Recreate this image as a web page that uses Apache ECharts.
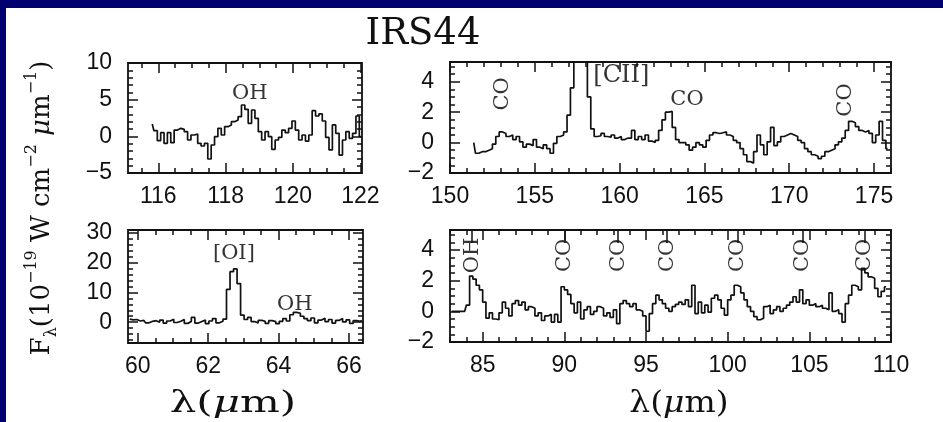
<!DOCTYPE html>
<html>
<head>
<meta charset="utf-8">
<script src="https://cdn.jsdelivr.net/npm/echarts@6/dist/echarts.min.js"></script>
<style>
  html, body { margin: 0; padding: 0; background: #000070; }
  #chart { width: 943px; height: 422px; }
</style>
</head>
<body>
<div id="chart"></div>
<script>
// ---- Spectra of IRS44: flux density in 1e-19 W cm^-2 um^-1 on regular wavelength bins ----

// 115-122 um window (OH 119 um)
const ohStart = 115.82, ohStep = 0.1;
const fluxOH = [1.68, 0.77, -0.59, 0.5, -0.95, 0.5, -0.86, 0.86, 1.09, 0.95,
  0.64, -0.5, 0.18, 0.32, -0.95, -1.32, -0.95, -3.09, -1.18, -0.05,
  1.09, 0.18, 1.32, 1.55, 2.0, 2.23, 2.68, 4.27, 3.68, 1.77,
  3.59, 2.45, 0.64, -0.5, 0.64, -0.05, -1.77, -0.5, -0.14, 0.86,
  0.5, 1.09, 2.09, 0.86, -0.5, 0.18, -0.64, 0.18, 3.5, 2.77,
  3.05, 2.09, -0.14, -1.86, 1.55, 0.41, -2.55, -0.5, 0.64, -0.27,
  0.41, 2.77, -0.05];

// 60-66.4 um window ([OI] 63 um)
const oiStart = 59.77, oiStep = 0.1;
const fluxOI = [1.0, 0.8, 0.9, 0.4, 0.6, -0.2, 0.3, 0.5, 0.0, 0.7,
  -0.3, 0.4, 1.0, -0.1, 0.3, 0.9, -0.4, 0.2, 1.6, -0.3,
  0.2, 0.7, -0.5, 0.4, 1.2, -0.2, 0.3, 1.0, 11.0, 17.0,
  17.9, 13.0, 2.4, 0.9, 1.6, 0.2, -0.3, 0.6, 0.3, -0.4,
  0.5, 0.2, -0.5, 0.3, 1.2, 0.4, 2.5, 3.3, 3.0, 2.0,
  1.2, 0.5, 1.4, -0.2, 0.7, 1.3, 0.2, 0.9, -0.3, 0.6,
  1.2, 0.1, 0.8, -0.4, 0.5, 0.3, 0.6];

// 150-176 um window ([CII] 158 um)
const ciiStart = 151.4, ciiStep = 0.2;
const fluxCII = [0.0, -0.7, -0.6, -0.6, -0.5, -0.4, -0.1, 0.4, 0.7, 0.6,
  0.4, 0.5, 0.2, 0.4, 0.05, -0.3, -0.1, -0.2, 0.2, -0.3,
  -0.4, -0.15, -0.4, -0.7, -0.05, 0.4, 0.5, 0.7, 1.8, 3.6,
  7.0, 9.5, 9.0, 6.0, 3.0, 0.9, 0.4, 0.45, 0.6, 0.4,
  0.35, 0.5, 0.3, 0.4, 0.2, 0.3, 0.3, 0.8, 0.2, 0.4,
  0.2, 0.5, 0.1, 0.0, 0.15, 0.8, 1.5, 2.0, 2.05, 1.0,
  0.2, 0.0, 0.0, -0.15, -0.5, -0.3, 0.0, -0.15, -0.3, 0.15,
  0.5, 0.65, 0.6, 0.65, 0.7, 0.5, 0.4, 0.15, 0.0, -0.4,
  -0.8, -1.25, -1.35, -0.6, 0.5, -0.15, -0.8, 0.05, 1.0, -0.2,
  0.05, 0.4, 0.5, 0.6, 0.5, 0.4, 0.15, 0.0, -0.4, -0.6,
  -0.8, -0.9, -1.05, -0.9, -0.6, -0.5, -0.4, -0.15, 0.05, 0.3,
  0.8, 1.4, 1.3, 1.05, 0.8, 0.7, 0.8, 0.6, 0.0, 0.5,
  1.4, 0.15, -0.4];

// 83-110 um window (CO ladder)
const coStart = 83.1, coStep = 0.2;
const fluxCO = [0.0, 0.0, 0.0, 0.0, 0.0, 0.4, 2.3, 2.1, 1.7, 1.4,
  0.6, -0.45, -0.1, -0.5, -0.55, -0.1, 0.6, 0.2, -0.3, 0.5,
  0.7, 0.4, 0.6, 0.1, 0.3, 0.2, -0.3, -0.1, -0.6, -0.3,
  -0.2, -0.7, -0.2, -0.7, 1.6, 1.4, 1.1, 0.5, -0.1, 0.6,
  -0.5, 0.1, 0.3, -0.2, 0.0, 0.3, 0.2, -0.3, -0.1, -0.4,
  0.1, -0.8, 0.5, 0.7, 0.5, 0.3, 0.5, 0.1, 0.0, -0.3,
  -1.3, -0.15, 0.5, 1.05, 0.75, 0.5, 0.2, 0.0, 0.3, 0.45,
  0.6, 0.45, 0.75, 0.3, 1.7, -0.15, 0.6, -0.1, 0.4, -0.05,
  0.85, 1.05, 0.75, 0.2, -0.25, 0.75, 1.05, 1.7, 1.6, 1.2,
  0.75, 0.3, 0.0, -0.35, -0.55, -0.45, 0.3, 0.4, -0.15, 0.1,
  0.3, 0.0, 0.2, 0.4, 0.6, 0.95, 0.6, 1.4, 0.5, 0.75,
  0.4, 0.5, 0.3, 0.4, 0.2, 0.1, 1.2, 0.0, 0.1, -0.15,
  -0.7, 0.5, 1.05, 1.7, 1.6, 1.4, 2.8, 2.5, 2.25, 2.15,
  1.5, 0.95, 1.3, 1.6];

// ---- Tick labels ----
const xTicksOH = [116, 118, 120, 122];
const xTicksOI = [60, 62, 64, 66];
const xTicksCII = [150, 155, 160, 165, 170, 175];
const xTicksCO = [85, 90, 95, 100, 105, 110];
const yTicksOH = [-5, 0, 5, 10];
const yTicksOI = [0, 10, 20, 30];
const yTicksSmall = [-2, 0, 2, 4];

// ---- Line identifications: [wavelength, flux position, text, rotated] ----
const linesOH = [[118.72, 5.85, 'OH', false]];
const linesOI = [[62.73, 23.0, '[OI]', false], [64.46, 5.8, 'OH', false]];
const linesCII = [[153.07, 3.2, 'CO', true], [160.1, 4.4, '[CII]', false],
                  [163.97, 2.8, 'CO', false], [173.3, 2.8, 'CO', true]];
const linesCO = [[84.35, 3.64, 'OH'], [90.0, 3.64, 'CO'], [93.3, 3.64, 'CO'],
                 [96.3, 3.64, 'CO'], [100.6, 3.64, 'CO'], [104.6, 3.64, 'CO'],
                 [108.4, 3.64, 'CO']];
const markerTop = 5.3, markerBottom = 4.45;

// ---- Panel layout ----
const panels = [
  { grid: { left: 128, top: 63, width: 234, height: 110 }, x: [115.1, 122.05], y: [-5, 10],
    xMajor: xTicksOH, xMinor: 0.5, yMajor: yTicksOH, yMinor: 1,
    start: ohStart, step: ohStep, flux: fluxOH, labels: linesOH },
  { grid: { left: 450, top: 62, width: 441, height: 111 }, x: [150, 176], y: [-2, 5.3],
    xMajor: xTicksCII, xMinor: 1, yMajor: yTicksSmall, yMinor: 0.5,
    start: ciiStart, step: ciiStep, flux: fluxCII, labels: linesCII },
  { grid: { left: 128, top: 230, width: 235, height: 113 }, x: [59.72, 66.4], y: [-7, 31],
    xMajor: xTicksOI, xMinor: 0.5, yMajor: yTicksOI, yMinor: 2,
    start: oiStart, step: oiStep, flux: fluxOI, labels: linesOI },
  { grid: { left: 450, top: 230, width: 441, height: 112 }, x: [83, 110], y: [-2, 5.3],
    xMajor: xTicksCO, xMinor: 1, yMajor: yTicksSmall, yMinor: 0.5,
    start: coStart, step: coStep, flux: fluxCO, labels: null, markers: linesCO }
];

const INK = '#111';
const tickFont = { fontFamily: 'Liberation Sans', fontSize: 23, color: INK };
const fmt = v => (v < 0 ? '\u2212' : '') + Math.abs(v);

function minorValues(range, step) {
  const out = [];
  for (let v = Math.ceil(range[0] / step - 1e-9) * step; v <= range[1] + 1e-9; v += step) {
    out.push(+v.toFixed(4));
  }
  return out;
}

// Four overlaid axes per direction: labelled major, minor, and mirrored copies on the far side.
function axisSet(dim, gi, range, majors, minorStep) {
  const pos = dim === 'x' ? ['bottom', 'top'] : ['left', 'right'];
  const minors = minorValues(range, minorStep);
  const base = { type: 'value', gridIndex: gi, min: range[0], max: range[1],
                 axisLine: { show: false, onZero: false }, splitLine: { show: false } };
  const tick = (vals, len) => ({ show: true, inside: true, length: len, customValues: vals,
                                 lineStyle: { color: INK, width: 1.5 } });
  return [
    Object.assign({}, base, { position: pos[0], axisTick: tick(majors, 10),
      axisLabel: Object.assign({ show: true, customValues: majors, formatter: fmt,
                                 margin: dim === 'x' ? 12 : 16 }, tickFont) }),
    Object.assign({}, base, { position: pos[0], axisTick: tick(minors, 5), axisLabel: { show: false } }),
    Object.assign({}, base, { position: pos[1], axisTick: tick(majors, 10), axisLabel: { show: false } }),
    Object.assign({}, base, { position: pos[1], axisTick: tick(minors, 5), axisLabel: { show: false } })
  ];
}

const grids = [], xAxes = [], yAxes = [], series = [];
panels.forEach((p, gi) => {
  grids.push(Object.assign({ show: true, borderColor: INK, borderWidth: 1.8,
                             backgroundColor: 'transparent' }, p.grid));
  const xi = xAxes.length, yi = yAxes.length;
  xAxes.push(...axisSet('x', gi, p.x, p.xMajor, p.xMinor));
  yAxes.push(...axisSet('y', gi, p.y, p.yMajor, p.yMinor));

  series.push({
    type: 'line', xAxisIndex: xi, yAxisIndex: yi, step: 'middle', symbol: 'none',
    clip: true, silent: true, animation: false,
    lineStyle: { color: INK, width: 1.7 },
    data: p.flux.map((f, i) => [+(p.start + i * p.step).toFixed(3), f])
  });

  if (p.labels) {
    series.push({
      type: 'scatter', xAxisIndex: xi, yAxisIndex: yi, symbolSize: 1, silent: true,
      animation: false, itemStyle: { color: 'rgba(0,0,0,0)' },
      data: p.labels.map(l => ({ value: [l[0], l[1]], name: l[2],
        label: { rotate: l[3] ? 90 : 0, fontSize: l[2] === '[CII]' ? 24 : 21 } })),
      label: { show: true, position: 'inside', formatter: '{b}', color: '#000',
               fontFamily: 'DejaVu Serif', fontSize: 21 }
    });
  }
  if (p.markers) {
    series.push({
      type: 'scatter', xAxisIndex: xi, yAxisIndex: yi, symbolSize: 1, silent: true,
      animation: false, itemStyle: { color: 'rgba(0,0,0,0)' },
      data: p.markers.map(l => ({ value: [l[0], l[1]], name: l[2] })),
      label: { show: true, position: 'inside', formatter: '{b}', rotate: 90, color: '#000',
               fontFamily: 'DejaVu Serif', fontSize: 21 },
      markLine: {
        silent: true, symbol: ['none', 'none'], animation: false,
        label: { show: false }, lineStyle: { color: INK, width: 1.5, type: 'solid' },
        data: p.markers.map(l => [{ coord: [l[0], markerTop] }, { coord: [l[0], markerBottom] }])
      }
    });
  }
});

const chart = echarts.init(document.getElementById('chart'), null, { renderer: 'canvas' });
chart.setOption({
  backgroundColor: '#000070',
  animation: false,
  grid: grids,
  xAxis: xAxes,
  yAxis: yAxes,
  series: series,
  graphic: [
    { type: 'rect', z: -10, silent: true, shape: { x: 6, y: 8, width: 943, height: 420 },
      style: { fill: '#ffffff' } },
    { type: 'text', silent: true, x: 423, y: 34,
      style: { text: 'IRS44', fill: INK, font: '37px "DejaVu Serif"', align: 'center', verticalAlign: 'middle' } },
    { type: 'text', silent: true, x: 42, y: 208, rotation: Math.PI / 2,
      style: {
        text: '{m|F}{s|\u03bb}{m|(10}{p|\u221219}{m| W cm}{p|\u22122}{m| }{i|\u03bc}{m|m}{p|\u22121}{m|)}',
        align: 'center', verticalAlign: 'middle', fill: INK,
        rich: {
          m: { fontFamily: 'DejaVu Serif', fontSize: 26, lineHeight: 36, fill: INK, verticalAlign: 'middle' },
          i: { fontFamily: 'DejaVu Serif', fontStyle: 'italic', fontSize: 26, lineHeight: 36, fill: INK },
          s: { fontFamily: 'DejaVu Serif', fontSize: 16, fill: INK, verticalAlign: 'bottom', lineHeight: 36 },
          p: { fontFamily: 'DejaVu Serif', fontSize: 16, fill: INK, verticalAlign: 'top', lineHeight: 36 }
        }
      } },
    { type: 'text', silent: true, x: 233, y: 404, scaleX: 1.4,
      style: { text: '{m|\u03bb(}{i|\u03bc}{m|m)}', align: 'center', verticalAlign: 'middle',
        rich: { m: { fontFamily: 'DejaVu Serif', fontSize: 30, fill: INK },
                i: { fontFamily: 'DejaVu Serif', fontStyle: 'italic', fontSize: 30, fill: INK } } } },
    { type: 'text', silent: true, x: 679, y: 404, scaleX: 1.1,
      style: { text: '{m|\u03bb(}{i|\u03bc}{m|m)}', align: 'center', verticalAlign: 'middle',
        rich: { m: { fontFamily: 'DejaVu Serif', fontSize: 30, fill: INK },
                i: { fontFamily: 'DejaVu Serif', fontStyle: 'italic', fontSize: 30, fill: INK } } } }
  ]
});
</script>
</body>
</html>
